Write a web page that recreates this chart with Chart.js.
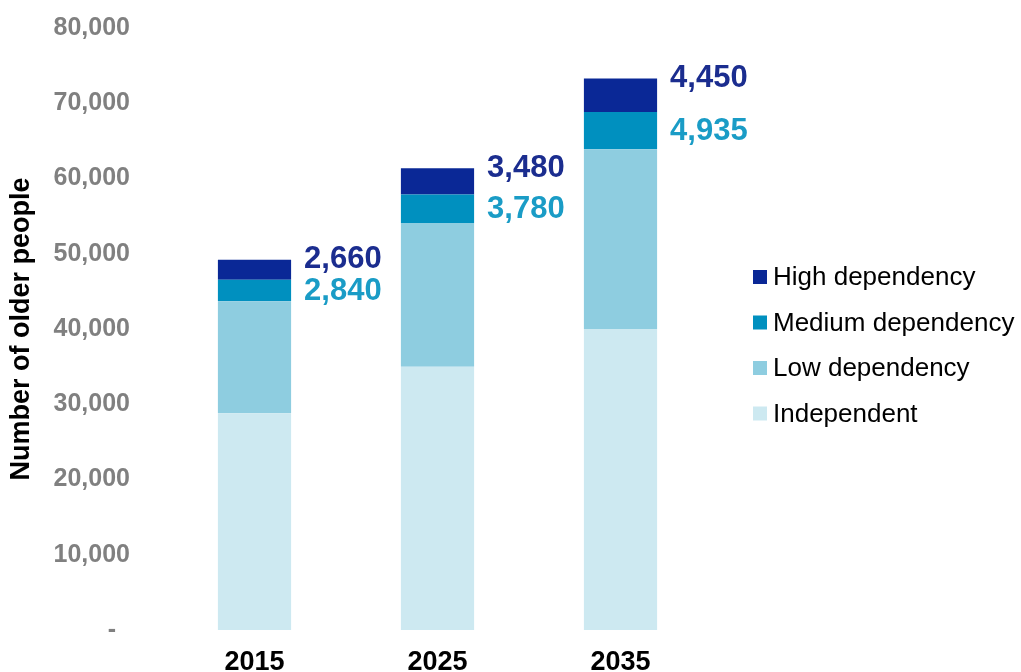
<!DOCTYPE html>
<html>
<head>
<meta charset="utf-8">
<script src="https://cdn.jsdelivr.net/npm/chart.js@4/dist/chart.umd.min.js"></script>
<style>
  html, body { margin: 0; padding: 0; background: #fff; }
  #wrap { width: 1021px; height: 672px; }
</style>
</head>
<body>
<div id="wrap"><canvas id="myChart" width="1021" height="672"></canvas></div>
<script>
var years = ['2015', '2025', '2035'];
var independent = [28800, 35000, 40000];
var lowDep = [14900, 19100, 23900];
var mediumDep = [2840, 3780, 4935];
var highDep = [2660, 3480, 4450];
var yTicks = [0, 10000, 20000, 30000, 40000, 50000, 60000, 70000, 80000];

var FONT = '"Liberation Sans", Arial, sans-serif';
var colIndependent = '#cde9f1';
var colLow = '#8ecde0';
var colMedium = '#0090bf';
var colHigh = '#0a2896';

function fmt(v) {
  return v.toLocaleString('en-US');
}

// value labels for medium and high segments, plus the legend on the right
var extras = {
  id: 'extras',
  afterDatasetsDraw: function (chart) {
    var c = chart.ctx;
    var medMeta = chart.getDatasetMeta(2);
    var highMeta = chart.getDatasetMeta(3);
    c.save();
    c.font = 'bold 31px ' + FONT;
    c.textAlign = 'left';
    c.textBaseline = 'middle';
    for (var i = 0; i < years.length; i++) {
      var hb = highMeta.data[i];
      var mb = medMeta.data[i];
      var xr = hb.x + hb.width / 2 + 13;
      c.fillStyle = '#1b2d8f';
      c.fillText(fmt(highDep[i]), xr, hb.y);
      c.fillStyle = '#1a9cc6';
      c.fillText(fmt(mediumDep[i]), xr, (mb.y + mb.base) / 2 + 1);
    }

    // legend
    var items = [
      ['High dependency', colHigh],
      ['Medium dependency', colMedium],
      ['Low dependency', colLow],
      ['Independent', colIndependent]
    ];
    c.font = '26px ' + FONT;
    for (var j = 0; j < items.length; j++) {
      var y = 277 + j * 45.5;
      c.fillStyle = items[j][1];
      c.fillRect(753, y - 7, 14, 14);
      c.fillStyle = '#000';
      c.fillText(items[j][0], 773, y + 1);
    }
    c.restore();
  }
};

var ctx = document.getElementById('myChart').getContext('2d');
var myChart = new Chart(ctx, {
  type: 'bar',
  data: {
    labels: years,
    datasets: [
      { label: 'Independent', data: independent, backgroundColor: colIndependent },
      { label: 'Low dependency', data: lowDep, backgroundColor: colLow },
      { label: 'Medium dependency', data: mediumDep, backgroundColor: colMedium },
      { label: 'High dependency', data: highDep, backgroundColor: colHigh }
    ]
  },
  options: {
    responsive: false,
    animation: false,
    layout: { padding: { left: 0, right: 309, top: 28, bottom: 0 } },
    datasets: { bar: { categoryPercentage: 1, barPercentage: 0.4, borderWidth: 0 } },
    plugins: {
      legend: { display: false },
      tooltip: { enabled: false }
    },
    scales: {
      x: {
        stacked: true,
        grid: { display: false, drawTicks: false },
        border: { display: false },
        afterFit: function (scale) { scale.height = 42; },
        ticks: { color: '#000', font: { family: FONT, size: 27, weight: 'bold' }, padding: 16 }
      },
      y: {
        stacked: true,
        min: 0,
        max: 80000,
        grid: { display: false, drawTicks: false },
        border: { display: false },
        afterFit: function (scale) {
          scale.width = 163;
          scale.paddingTop = 0;
          scale.paddingBottom = 0;
        },
        afterBuildTicks: function (axis) {
          axis.ticks = yTicks.map(function (v) { return { value: v }; });
        },
        ticks: {
          color: '#808080',
          padding: 33,
          font: { family: FONT, size: 25, weight: 'bold' },
          callback: function (v) { return v === 0 ? '-  ' : fmt(v); }
        },
        title: {
          display: true,
          text: 'Number of older people',
          color: '#000',
          font: { family: FONT, size: 27, weight: 'bold' },
          padding: { top: 5, bottom: 10 }
        }
      }
    }
  },
  plugins: [extras]
});
</script>
</body>
</html>
